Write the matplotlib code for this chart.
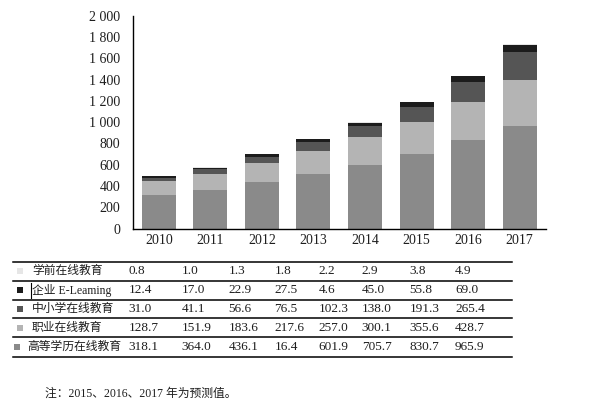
import matplotlib
matplotlib.use("Agg")
import matplotlib.pyplot as plt
from matplotlib.lines import Line2D
from matplotlib.patches import Rectangle
import numpy as np

plt.rcParams['font.family'] = ['Liberation Serif', 'Noto Sans CJK SC', 'DejaVu Sans']

years = ['2010', '2011', '2012', '2013', '2014', '2015', '2016', '2017']
series_names = ['学前在线教育', '企业 E-Leaming', '中小学在线教育', '职业在线教育', '高等学历在线教育']

# bar values (stack order from bottom)
higher_edu = [318.1, 364.0, 436.1, 516.4, 601.9, 705.7, 830.7, 965.9]
vocational = [128.7, 151.9, 183.6, 217.6, 257.0, 300.1, 355.6, 428.7]
k12 = [31.0, 41.1, 56.6, 76.5, 102.3, 138.0, 191.3, 265.4]
elearning = [12.4, 17.0, 22.9, 27.5, 34.6, 45.0, 55.8, 69.0]
preschool = [0.8, 1.0, 1.3, 1.8, 2.2, 2.9, 3.8, 4.9]

# table text as printed in the reference
table_preschool = ['0.8', '1.0', '1.3', '1.8', '2.2', '2.9', '3.8', '4.9']
table_elearning = ['12.4', '17.0', '22.9', '27.5', '4.6', '45.0', '55.8', '69.0']
table_k12 = ['31.0', '41.1', '56.6', '76.5', '102.3', '138.0', '191.3', '265.4']
table_vocational = ['128.7', '151.9', '183.6', '217.6', '257.0', '300.1', '355.6', '428.7']
table_higher = ['318.1', '364.0', '436.1', '16.4', '601.9', '705.7', '830.7', '965.9']

y_ticks = [0, 200, 400, 600, 800, 1000, 1200, 1400, 1600, 1800, 2000]
footnote = '注：2015、2016、2017 年为预测值。'

c_higher = '#8a8a8a'
c_voc = '#b4b4b4'
c_k12 = '#555555'
c_el = '#1c1c1c'
c_pre = '#e6e6e6'
txt = '#1e1e1e'

W, H = 594, 408
fig = plt.figure(figsize=(W / 100, H / 100), dpi=100)
fig.patch.set_facecolor('white')

ax = fig.add_axes([133 / W, (H - 228.7) / H, 412.5 / W, 213 / H])
x = np.arange(len(years))
bw = 0.66
bottom = np.zeros(len(years))
for vals, col in [(higher_edu, c_higher), (vocational, c_voc), (k12, c_k12),
                  (elearning, c_el), (preschool, c_pre)]:
    ax.bar(x, vals, bw, bottom=bottom, color=col, linewidth=0)
    bottom += np.array(vals)

ax.set_xlim(-0.5, len(years) - 0.5)
ax.set_ylim(0, 2000)
ax.set_yticks(y_ticks)
ax.set_yticklabels([f'{v:,}'.replace(',', ' ') for v in y_ticks])
ax.set_xticks(x)
ax.set_xticklabels(years)
ax.tick_params(axis='y', length=0, pad=9, labelsize=10, labelcolor=txt)
ax.tick_params(axis='x', length=0, pad=4, labelsize=10, labelcolor=txt)
for s in ['top', 'right']:
    ax.spines[s].set_visible(False)
for s in ['left', 'bottom']:
    ax.spines[s].set_color('black')
    ax.spines[s].set_linewidth(1.0)

# table
def fx(px):
    return px / W

def fy(py):
    return 1 - py / H

line_ys = [261.7, 280.7, 299.5, 318.4, 337.4, 356.6]
for ly in line_ys:
    fig.add_artist(Line2D([fx(12.5), fx(511.5)], [fy(ly), fy(ly)],
                          color='black', linewidth=1.1, transform=fig.transFigure))

col_x = [128.3, 181.7, 228.3, 274.3, 318.3, 361.7, 409.3, 455.0]
rows = [
    (series_names[0], table_preschool, c_pre, 20, 32),
    (series_names[1], table_elearning, c_el, 20, 32),
    (series_names[2], table_k12, c_k12, 20, 32),
    (series_names[3], table_vocational, c_voc, 20, 32),
    (series_names[4], table_higher, c_higher, 17, 27),
]
for i, (name, vals, col, sqx, tx) in enumerate(rows):
    cy = (line_ys[i] + line_ys[i + 1]) / 2
    fig.add_artist(Rectangle((fx(sqx - 3), fy(cy + 3)), 6 / W, 6 / H, color=col,
                             transform=fig.transFigure, linewidth=0))
    fig.text(fx(tx), fy(cy), name, ha='left', va='center', fontsize=8.5,
             family=['Liberation Serif', 'Noto Sans CJK SC'], color=txt)
    for cx, v in zip(col_x, vals):
        fig.text(fx(cx), fy(cy), v, ha='left', va='center', fontsize=9.5, color=txt)

# small cursor mark in the E-Leaming row
cy2 = (line_ys[1] + line_ys[2]) / 2
fig.add_artist(Line2D([fx(31), fx(31)], [fy(cy2 - 7), fy(cy2 + 8)], color='black',
                      linewidth=0.8, transform=fig.transFigure))

fig.text(fx(45), fy(394), footnote, ha='left', va='center', fontsize=8.5,
         family=['Liberation Serif', 'Noto Sans CJK SC'], color=txt)

fig.savefig('out.png', dpi=100, facecolor='white')
